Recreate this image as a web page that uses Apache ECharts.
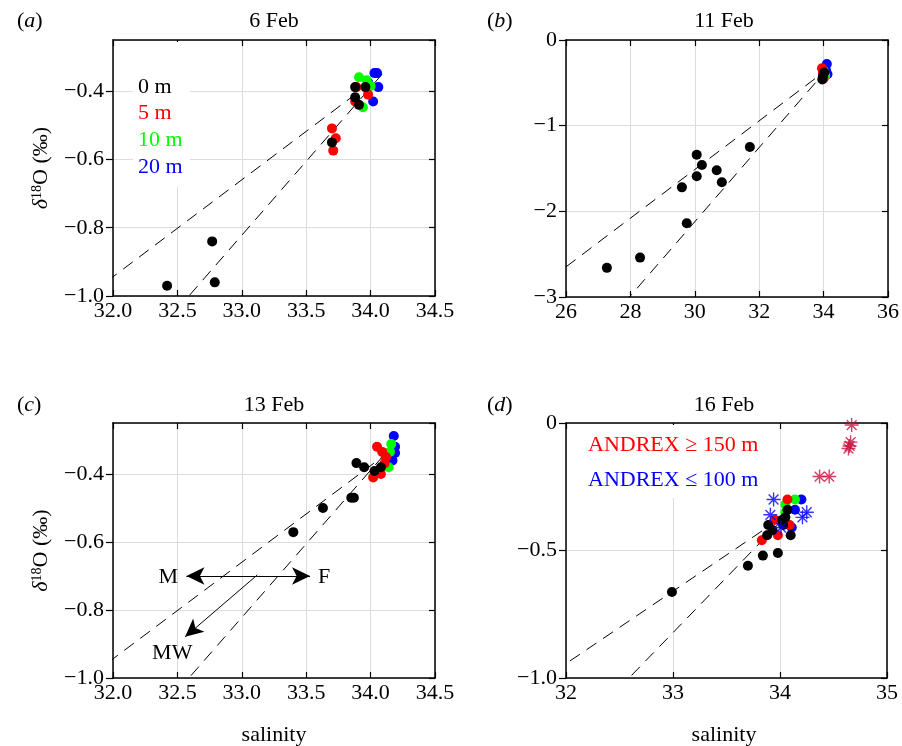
<!DOCTYPE html>
<html>
<head>
<meta charset="utf-8">
<script src="https://cdn.jsdelivr.net/npm/echarts@6/dist/echarts.min.js"></script>
<style>html,body{margin:0;padding:0;background:#fff}#c{width:902px;height:746px}</style>
</head>
<body>
<div id="c"></div>
<script>
// ---------- data ----------
const panelTitles = ['6 Feb', '11 Feb', '13 Feb', '16 Feb'];
const panelLetters = ['a', 'b', 'c', 'd'];
const depthLabels = ['0 m', '5 m', '10 m', '20 m'];
const andrexLabels = ['ANDREX \u2265 150 m', 'ANDREX \u2264 100 m'];

// 6 Feb
const a0m = [[32.42,-0.97],[32.77,-0.84],[32.79,-0.96],[33.70,-0.55],[33.88,-0.388],[33.96,-0.388],[33.88,-0.418],[33.91,-0.44]];
const a5m = [[33.70,-0.509],[33.73,-0.538],[33.71,-0.574],[33.89,-0.388],[33.98,-0.41],[33.88,-0.43]];
const a10m = [[33.91,-0.359],[33.97,-0.368],[33.94,-0.447],[34.00,-0.385]];
const a20m = [[34.03,-0.347],[34.06,-0.388],[34.02,-0.43],[33.98,-0.374],[34.05,-0.347]];
// 11 Feb
const b0m = [[27.27,-2.66],[28.30,-2.54],[29.75,-2.14],[29.60,-1.72],[30.06,-1.34],[30.06,-1.59],[30.22,-1.46],[30.68,-1.52],[30.84,-1.66],[31.71,-1.25],[33.98,-0.42],[34.02,-0.38],[33.96,-0.46]];
const b5m = [[33.95,-0.33],[34.00,-0.45],[33.98,-0.38]];
const b10m = [[34.05,-0.42],[34.00,-0.36]];
const b20m = [[34.10,-0.28],[34.08,-0.36],[34.12,-0.40]];
// 13 Feb
const c0m = [[33.40,-0.571],[33.63,-0.50],[33.85,-0.47],[33.87,-0.47],[33.89,-0.368],[33.95,-0.38],[34.03,-0.391],[34.08,-0.38]];
const c5m = [[34.05,-0.32],[34.02,-0.41],[34.08,-0.40],[34.09,-0.335],[34.12,-0.35],[34.11,-0.368]];
const c10m = [[34.16,-0.312],[34.15,-0.335],[34.14,-0.38]];
const c20m = [[34.18,-0.288],[34.19,-0.32],[34.19,-0.338],[34.17,-0.36]];
// 16 Feb
const d0m = [[32.99,-0.663],[33.70,-0.56],[33.84,-0.52],[33.98,-0.51],[33.88,-0.44],[33.89,-0.40],[33.93,-0.42],[34.02,-0.38],[34.05,-0.37],[34.07,-0.34],[34.10,-0.44],[34.03,-0.40]];
const d5m = [[33.83,-0.46],[33.98,-0.44],[33.95,-0.38],[34.07,-0.30],[34.09,-0.40]];
const d10m = [[34.14,-0.30],[34.05,-0.32],[34.05,-0.35]];
const d20m = [[34.20,-0.30],[34.11,-0.41],[34.14,-0.34]];
const andrexDeep = [[34.67,-0.008],[34.66,-0.075],[34.65,-0.09],[34.64,-0.10],[34.37,-0.21],[34.46,-0.21]];
const andrexShallow = [[33.94,-0.30],[33.91,-0.36],[34.01,-0.41],[34.21,-0.37],[34.25,-0.35]];

// mixing lines (salinity, d18O)
const mixLine1 = [[26.0,-2.648],[34.09,-0.35]];
const mixLine2 = [[27.8,-3.074],[34.09,-0.35]];

// 13 Feb annotation arrows and labels
const arrowM = [[33.12,-0.70],[32.57,-0.70]];
const arrowF = [[33.12,-0.70],[33.53,-0.70]];
const arrowMW = [[33.12,-0.697],[32.56,-0.879]];
const annotNames = ['M', 'F', 'MW'];
const annotPos = [[32.43,-0.703],[33.64,-0.703],[32.46,-0.926]];

// axis ranges / ticks
const xRanges = [[32,34.5,0.5],[26,36,2],[32,34.5,0.5],[32,35,1]];
const yRanges = [[-1,-0.25,0.2],[-3,0,1],[-1,-0.25,0.2],[-1,0,0.5]];
const xDec = [1,0,1,0];
const yDec = [1,0,1,1];

// ---------- layout ----------
const FONT = 'Liberation Serif';
const FS = 22;
const grids = [
  {left:113, top:40, width:322, height:256},
  {left:566, top:40, width:322, height:257},
  {left:113, top:423, width:322, height:255},
  {left:566, top:423, width:321, height:255}
];
const depthColors = ['#000000','#ff0000','#00ff00','#0000ff'];
const fmt = (v, dec) => {
  if (Math.abs(v) < 1e-9) return '0';
  return v.toFixed(dec).replace('-', '\u2212');
};

const xAxes = [], yAxes = [];
for (let i = 0; i < 4; i++) {
  const [x0,x1,xi] = xRanges[i];
  const [y0,y1,yi] = yRanges[i];
  xAxes.push({
    type:'value', gridIndex:i, min:x0, max:x1, interval:xi, position:'bottom',
    axisLine:{show:true, onZero:false, lineStyle:{color:'#000', width:1.5}},
    axisTick:{show:true, inside:true, length:6, lineStyle:{color:'#000', width:1.2}},
    splitLine:{show:true, lineStyle:{color:'#dcdcdc', width:1}},
    axisLabel:{show:true, margin:4, color:'#000', fontFamily:FONT, fontSize:FS, formatter:(v)=>fmt(v,xDec[i])}
  });
  yAxes.push({
    type:'value', gridIndex:i, min:y0, max:y1, interval:yi, position:'left',
    axisLine:{show:true, onZero:false, lineStyle:{color:'#000', width:1.5}},
    axisTick:{show:true, inside:false, length:7, lineStyle:{color:'#000', width:1.2}},
    splitLine:{show:true, lineStyle:{color:'#dcdcdc', width:1}},
    axisLabel:{show:true, margin:9, color:'#000', fontFamily:FONT, fontSize:FS, showMaxLabel: (i===1||i===3), formatter:(v)=>fmt(v,yDec[i])},
    name: (i===0||i===2) ? '{d|\u03b4}{s|18}{n|O (\u2030)}' : '',
    nameLocation:'middle', nameGap:60, nameRotate:90,
    nameTextStyle:{color:'#000', fontFamily:FONT, fontSize:FS, rich:{
      d:{fontFamily:FONT, fontSize:FS, fontStyle:'italic', color:'#000'},
      s:{fontFamily:FONT, fontSize:14, color:'#000', verticalAlign:'bottom', padding:[0,0,9,0]},
      n:{fontFamily:FONT, fontSize:FS, color:'#000'}
    }}
  });
}
for (let i = 0; i < 4; i++) {
  const [x0,x1,xi] = xRanges[i];
  const [y0,y1,yi] = yRanges[i];
  xAxes.push({
    type:'value', gridIndex:i, min:x0, max:x1, interval:xi, position:'top',
    axisLine:{show:true, onZero:false, lineStyle:{color:'#000', width:1.5}},
    axisTick:{show:true, inside:true, length:6, lineStyle:{color:'#000', width:1.2}},
    splitLine:{show:false}, axisLabel:{show:false}
  });
  yAxes.push({
    type:'value', gridIndex:i, min:y0, max:y1, interval:yi, position:'right',
    axisLine:{show:true, onZero:false, lineStyle:{color:'#000', width:1.5}},
    axisTick:{show:true, inside:true, length:6, lineStyle:{color:'#000', width:1.2}},
    splitLine:{show:false}, axisLabel:{show:false}
  });
}

const series = [];
const scat = (data, color, i, z) => ({
  type:'scatter', xAxisIndex:i, yAxisIndex:i, data, symbol:'circle', symbolSize:10,
  itemStyle:{color, opacity:1}, z, silent:true, clip:false
});
const STAR = 'path://M10,0L10,20M0,10L20,10M3,3L17,17M3,17L17,3';
const star = (data, color, i, z) => ({
  type:'scatter', xAxisIndex:i, yAxisIndex:i, data, symbol:STAR, symbolSize:14,
  itemStyle:{color:'rgba(0,0,0,0)', borderColor:color, borderWidth:1.4}, z, silent:true
});
const dash = (data, i) => ({
  type:'line', xAxisIndex:i, yAxisIndex:i, data, showSymbol:false, symbol:'none', clip:true,
  lineStyle:{color:'#000', width:1, type:[12,8]}, z:2, silent:true
});
const panelData = [[a0m,a5m,a10m,a20m],[b0m,b5m,b10m,b20m],[c0m,c5m,c10m,c20m],[d0m,d5m,d10m,d20m]];
for (let i = 0; i < 4; i++) {
  series.push(dash(mixLine1, i));
  series.push(dash(mixLine2, i));
  const order = [3,2,1,0];
  order.forEach((k, n) => series.push(scat(panelData[i][k], depthColors[k], i, 3 + n)));
}
series.push(star(andrexShallow, '#0000ff', 3, 10));
series.push(star(andrexDeep, '#c8103f', 3, 10));

// arrows in 13 Feb
series.push({
  type:'line', xAxisIndex:2, yAxisIndex:2, data:[], z:12, silent:true,
  markLine:{
    silent:true, symbol:['none','arrow'], symbolSize:[13,18], animation:false,
    label:{show:false}, lineStyle:{color:'#000', width:1, type:'solid', opacity:1},
    data:[
      [{coord:arrowM[0]},{coord:arrowM[1]}],
      [{coord:arrowF[0]},{coord:arrowF[1]}],
      [{coord:arrowMW[0]},{coord:arrowMW[1]}]
    ]
  }
});

// ---------- text / legends ----------
const graphic = [];
const titlePos = [[274,21],[724,21],[274,405],[724,405]];
const letterPos = [[17,21],[487,21],[17,405],[487,405]];
for (let i = 0; i < 4; i++) {
  graphic.push({type:'text', x:titlePos[i][0], y:titlePos[i][1], z:20,
    style:{text:panelTitles[i], font:FS+'px "'+FONT+'"', fill:'#000', align:'center', verticalAlign:'middle'}});
  graphic.push({type:'text', x:letterPos[i][0], y:letterPos[i][1], z:20,
    style:{text:'{p|(}{i|'+panelLetters[i]+'}{p|)}', fill:'#000', align:'left', verticalAlign:'middle',
      rich:{p:{fontFamily:FONT, fontSize:FS}, i:{fontFamily:FONT, fontSize:FS, fontStyle:'italic'}}}});
}
graphic.push({type:'text', x:274, y:735, z:20, style:{text:'salinity', font:FS+'px "'+FONT+'"', fill:'#000', align:'center', verticalAlign:'middle'}});
graphic.push({type:'text', x:724, y:735, z:20, style:{text:'salinity', font:FS+'px "'+FONT+'"', fill:'#000', align:'center', verticalAlign:'middle'}});
// legend a
graphic.push({type:'rect', z:1, shape:{x:133, y:42, width:57, height:145}, style:{fill:'#fff'}});
depthLabels.forEach((t, k) => graphic.push({type:'text', x:138, y:87 + k*26.7, z:20,
  style:{text:t, font:FS+'px "'+FONT+'"', fill:depthColors[k], align:'left', verticalAlign:'middle'}}));
// legend d
graphic.push({type:'rect', z:1, shape:{x:580, y:425, width:195, height:73}, style:{fill:'#fff'}});
graphic.push({type:'text', x:588, y:445, z:20, style:{text:andrexLabels[0], font:FS+'px "'+FONT+'"', fill:'#ff0000', align:'left', verticalAlign:'middle'}});
graphic.push({type:'text', x:588, y:480, z:20, style:{text:andrexLabels[1], font:FS+'px "'+FONT+'"', fill:'#0000ff', align:'left', verticalAlign:'middle'}});

const chart = echarts.init(document.getElementById('c'), null, {renderer:'canvas'});
chart.setOption({
  animation:false,
  backgroundColor:'#fff',
  grid:grids,
  xAxis:xAxes,
  yAxis:yAxes,
  series,
  graphic
});
// annotation labels placed through the panel (c) scales
const annotGraphic = annotNames.map((t, k) => {
  const p = chart.convertToPixel({xAxisIndex:2, yAxisIndex:2}, annotPos[k]);
  return {type:'text', x:p[0], y:p[1], z:20,
    style:{text:t, font:FS+'px "'+FONT+'"', fill:'#000', align:'center', verticalAlign:'middle'}};
});
chart.setOption({graphic: graphic.concat(annotGraphic)});
</script>
</body>
</html>
